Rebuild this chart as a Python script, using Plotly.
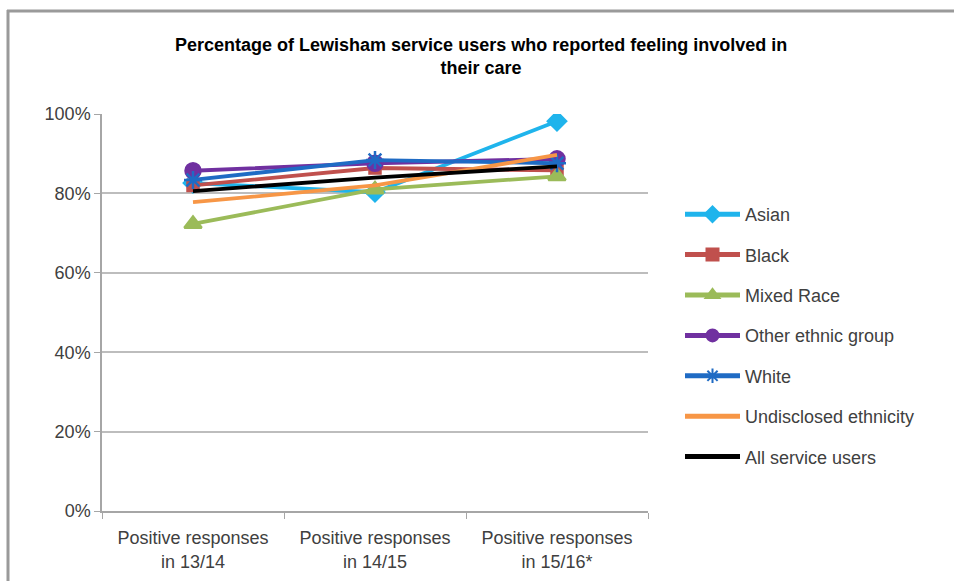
import plotly.graph_objects as go

# Survey periods (x categories)
periods = [
    "Positive responses<br>in 13/14",
    "Positive responses<br>in 14/15",
    "Positive responses<br>in 15/16*",
]

# Share of positive responses per ethnic group
asian = [0.826, 0.803, 0.982]
black = [0.820, 0.864, 0.858]
mixed_race = [0.723, 0.810, 0.843]
other_group = [0.857, 0.876, 0.887]
white = [0.834, 0.884, 0.876]
undisclosed = [0.778, 0.820, 0.897]
all_users = [0.806, 0.840, 0.868]

y_ticks = [0, 0.2, 0.4, 0.6, 0.8, 1.0]

W, H = 954, 581
L, R, T, B = 102, 306, 114, 70
FONT = "Liberation Sans, Arial, sans-serif"

series = [
    ("Asian", asian, "#1fb4ec", "diamond", 14),
    ("Black", black, "#c0504d", "square", 11),
    ("Mixed Race", mixed_race, "#9bbb59", "triangle-up", 15),
    ("Other ethnic group", other_group, "#7030a0", "circle", 15),
    ("White", white, "#1f6bc4", "asterisk-open", 15),
    ("Undisclosed ethnicity", undisclosed, "#f79646", None, 0),
    ("All service users", all_users, "#000000", None, 0),
]

fig = go.Figure()
for i, (name, vals, color, symbol, size) in enumerate(series):
    if symbol:
        mode = "lines+markers"
        marker = dict(symbol=symbol, size=size, color=color,
                      line=dict(color=color, width=2.5))
    else:
        mode = "lines"
        marker = None
    fig.add_trace(go.Scatter(
        x=periods, y=vals, name=name, mode=mode,
        line=dict(color=color, width=3.8),
        marker=marker, legendgroup=f"g{i}",
    ))


def px_x(p):
    return (p - L) / (W - L - R)


def px_y(p):
    return 1 - (p - T) / (H - T - B)


# outer chart frame (left and top edges)
frame = [
    dict(type="line", xref="paper", yref="paper",
         x0=px_x(8), x1=px_x(8), y0=px_y(10), y1=px_y(590),
         line=dict(color="#9a9a9a", width=3)),
    dict(type="line", xref="paper", yref="paper",
         x0=px_x(7), x1=px_x(960), y0=px_y(11), y1=px_y(11),
         line=dict(color="#9a9a9a", width=3)),
]

fig.update_layout(
    width=W, height=H,
    margin=dict(l=L, r=R, t=T, b=B),
    paper_bgcolor="white", plot_bgcolor="white",
    font=dict(family=FONT, size=18, color="#404040"),
    shapes=frame,
    annotations=[dict(
        text="<b>Percentage of Lewisham service users who reported feeling involved in<br>their care</b>",
        xref="paper", yref="paper", x=px_x(481), y=px_y(33),
        xanchor="center", yanchor="top", showarrow=False,
        font=dict(family=FONT, size=18, color="#000000"),
    )],
    showlegend=True,
    legend=dict(
        x=px_x(680), y=px_y(196), xanchor="left", yanchor="top",
        font=dict(family=FONT, size=18, color="#404040"),
        tracegroupgap=14, itemwidth=55, itemsizing="constant",
        bgcolor="rgba(0,0,0,0)",
    ),
    xaxis=dict(
        type="category", range=[-0.5, 2.5], automargin=False,
        showline=True, linecolor="#a6a6a6", linewidth=1.5,
        ticks="outside", tickson="boundaries", ticklen=6,
        tickcolor="#a6a6a6", showgrid=False, zeroline=False,
        ticklabelstandoff=10,
        tickfont=dict(family=FONT, size=18, color="#404040"),
    ),
    yaxis=dict(
        range=[0, 1.0], tickvals=y_ticks, tickformat=".0%",
        automargin=False,
        showline=True, linecolor="#a6a6a6", linewidth=1.5,
        ticks="outside", ticklen=6, tickcolor="#a6a6a6",
        showgrid=True, gridcolor="#bdbdbd", gridwidth=1.5,
        zeroline=False,
        tickfont=dict(family=FONT, size=18, color="#404040"),
    ),
)

fig.write_html("out.html")
